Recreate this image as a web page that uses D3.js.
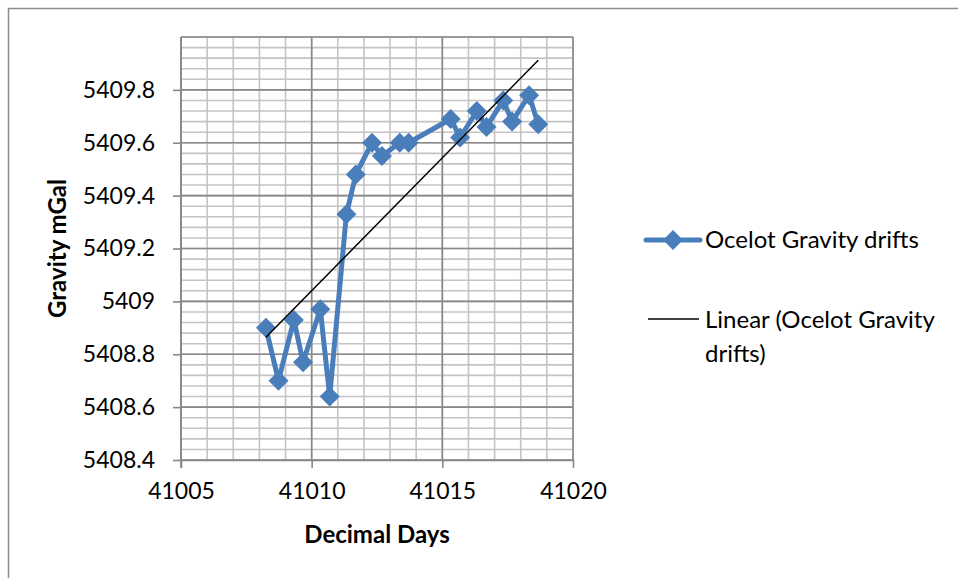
<!DOCTYPE html>
<html>
<head>
<meta charset="utf-8">
<script src="https://cdn.jsdelivr.net/npm/d3@7"></script>
<style>
  body { margin: 0; background: #fff; }
  text { font-family: Lato, "Open Sans", sans-serif; fill: #000; }
  .tick text { font-size: 23px; }
  .label { font-size: 24px; font-weight: bold; }
  .legend { font-size: 24px; }
</style>
</head>
<body>
<div id="chart"></div>
<script>
// data
let days = [41008.25, 41008.73, 41009.32, 41009.67, 41010.33, 41010.69, 41011.33, 41011.69,
            41012.31, 41012.69, 41013.37, 41013.71, 41015.32, 41015.68, 41016.32, 41016.69,
            41017.33, 41017.67, 41018.32, 41018.67];
let gravity = [5408.90, 5408.70, 5408.93, 5408.77, 5408.97, 5408.64, 5409.33, 5409.48,
               5409.60, 5409.55, 5409.60, 5409.60, 5409.69, 5409.62, 5409.72, 5409.66,
               5409.76, 5409.68, 5409.78, 5409.67];
let xTicks = [41005, 41010, 41015, 41020];
let yTicks = [5408.4, 5408.6, 5408.8, 5409, 5409.2, 5409.4, 5409.6, 5409.8];
let seriesName = "Ocelot Gravity drifts";
let trendName = ["Linear (Ocelot Gravity", "drifts)"];

let canvasWidth = 958;
let canvasHeight = 578;
let plotLeft = 181, plotRight = 573, plotTop = 37, plotBottom = 460;

let svg = d3.select("#chart")
    .append("svg")
    .attr("width", canvasWidth)
    .attr("height", canvasHeight);

// chart border (only top and left show in the picture)
svg.append("rect")
    .attr("x", 8.5)
    .attr("y", 8.5)
    .attr("width", canvasWidth + 20)
    .attr("height", canvasHeight + 20)
    .attr("fill", "none")
    .attr("stroke", "#8c8c8c")
    .attr("stroke-width", 1.5);

let xScale = d3.scaleLinear().domain([41005, 41020]).range([plotLeft, plotRight]);
let yScale = d3.scaleLinear().domain([5408.4, 5410]).range([plotBottom, plotTop]);

let grid = svg.append("g");

// minor grid lines
grid.selectAll(".minorx")
    .data(d3.range(41005, 41020.01, 1))
    .join("line")
    .attr("x1", d => xScale(d)).attr("x2", d => xScale(d))
    .attr("y1", plotTop).attr("y2", plotBottom)
    .attr("stroke", "#c4c4c4").attr("stroke-width", 1.6);

grid.selectAll(".minory")
    .data(d3.range(0, 41).map(i => 5408.4 + i * 0.04))
    .join("line")
    .attr("x1", plotLeft).attr("x2", plotRight)
    .attr("y1", d => yScale(d)).attr("y2", d => yScale(d))
    .attr("stroke", "#c4c4c4").attr("stroke-width", 1.6);

// major grid lines
grid.selectAll(".majorx")
    .data(xTicks)
    .join("line")
    .attr("x1", d => xScale(d)).attr("x2", d => xScale(d))
    .attr("y1", plotTop).attr("y2", plotBottom)
    .attr("stroke", "#888").attr("stroke-width", 1.6);

grid.selectAll(".majory")
    .data(yTicks.concat([5410]))
    .join("line")
    .attr("x1", plotLeft).attr("x2", plotRight)
    .attr("y1", d => yScale(d)).attr("y2", d => yScale(d))
    .attr("stroke", "#888").attr("stroke-width", 1.6);

// x axis
let xAxis = svg.append("g")
    .attr("transform", "translate(0," + plotBottom + ")")
    .call(d3.axisBottom(xScale).tickValues(xTicks).tickFormat(d3.format("d"))
        .tickSize(8).tickSizeOuter(0).tickPadding(14));

// y axis
let yAxis = svg.append("g")
    .attr("transform", "translate(" + plotLeft + ",0)")
    .call(d3.axisLeft(yScale).tickValues(yTicks).tickFormat(d => d3.format("")(+d.toFixed(1)))
        .tickSize(8).tickSizeOuter(0).tickPadding(18));

yAxis.select(".domain").attr("d", "M0," + plotTop + "V" + (plotBottom + 8));
[xAxis, yAxis].forEach(a => {
    a.select(".domain").attr("stroke", "#888").attr("stroke-width", 1.6);
    a.selectAll(".tick line").attr("stroke", "#888").attr("stroke-width", 1.6);
    a.selectAll(".tick text").attr("font-family", null).attr("font-size", null);
});
xAxis.selectAll(".tick text").attr("dy", "0.75em");

// axis titles
svg.append("text")
    .attr("class", "label")
    .attr("x", (plotLeft + plotRight) / 2)
    .attr("y", 543)
    .attr("text-anchor", "middle")
    .text("Decimal Days");

svg.append("text")
    .attr("class", "label")
    .attr("text-anchor", "middle")
    .attr("transform", "translate(66," + ((plotTop + plotBottom) / 2) + ") rotate(-90)")
    .text("Gravity mGal");

let data = days.map((d, i) => ({ day: d, g: gravity[i] }));

// linear trend from least squares
let mx = d3.mean(data, d => d.day);
let my = d3.mean(data, d => d.g);
let slope = d3.sum(data, d => (d.day - mx) * (d.g - my)) / d3.sum(data, d => (d.day - mx) * (d.day - mx));
let icpt = my - slope * mx;
let trendEnds = d3.extent(days).map(d => ({ day: d, g: icpt + slope * d }));

let line = d3.line().x(d => xScale(d.day)).y(d => yScale(d.g));

svg.append("path")
    .datum(data)
    .attr("d", line)
    .attr("fill", "none")
    .attr("stroke", "#4a7ebb")
    .attr("stroke-width", 5)
    .attr("stroke-linejoin", "round");

let diamond = d3.symbol(d3.symbolSquare, 200);

svg.selectAll(".pt")
    .data(data)
    .join("path")
    .attr("d", diamond)
    .attr("transform", d => "translate(" + xScale(d.day) + "," + yScale(d.g) + ") rotate(45)")
    .attr("fill", "#4a7ebb");

svg.append("path")
    .datum(trendEnds)
    .attr("d", line)
    .attr("fill", "none")
    .attr("stroke", "#000")
    .attr("stroke-width", 1.5);

// legend
let legend = svg.append("g");
legend.append("line")
    .attr("x1", 646).attr("x2", 700).attr("y1", 240).attr("y2", 240)
    .attr("stroke", "#4a7ebb").attr("stroke-width", 5).attr("stroke-linecap", "round");
legend.append("path")
    .attr("d", diamond)
    .attr("transform", "translate(673,240) rotate(45)")
    .attr("fill", "#4a7ebb");
legend.append("text")
    .attr("class", "legend")
    .attr("x", 705).attr("y", 248)
    .text(seriesName);

legend.append("line")
    .attr("x1", 648).attr("x2", 699).attr("y1", 319).attr("y2", 319)
    .attr("stroke", "#000").attr("stroke-width", 1.5);
legend.selectAll(".tl")
    .data(trendName)
    .join("text")
    .attr("class", "legend")
    .attr("x", 705)
    .attr("y", (d, i) => 328 + i * 34)
    .text(d => d);
</script>
</body>
</html>
